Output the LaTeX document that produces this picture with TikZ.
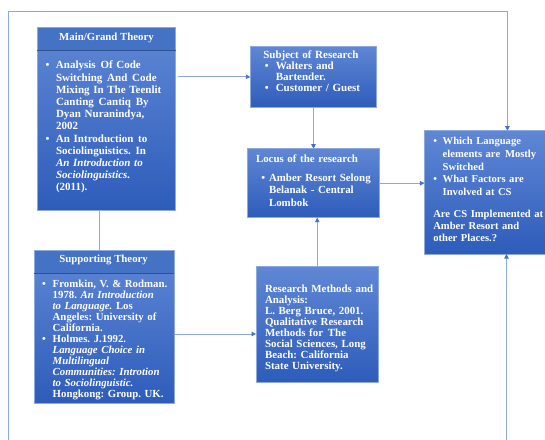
\documentclass[tikz,border=0pt]{standalone}
\usepackage{fontspec}
\setmainfont{Liberation Serif}
\usetikzlibrary{arrows.meta,calc}
\definecolor{hdrc}{HTML}{4472C4}
\definecolor{hdrdark}{HTML}{2F528F}
\definecolor{topc}{HTML}{5F87D5}
\definecolor{botc}{HTML}{2D5CBA}
\definecolor{edgec}{HTML}{8EA9DB}
\definecolor{linec}{HTML}{8EA9DB}
\definecolor{tipc}{HTML}{4472C4}
\newlength\bw
\newcommand\bl{\makebox[\bw][l]{\textbullet}}
\newcommand\ind{\hspace*{\bw}}
\newcommand\ws{\hspace{4.8pt}}
\frenchspacing
\begin{document}
\begin{tikzpicture}[x=1pt,y=-1pt,
 box/.style={draw=edgec, line width=0.7pt, top color=topc, bottom color=botc, anchor=north west, inner sep=0pt, outer sep=0pt},
 hdr/.style={draw=edgec, line width=0.7pt, fill=hdrc, anchor=north west, inner sep=0pt, outer sep=0pt},
 hdrtxt/.style={text=white, inner sep=0pt, font=\frenchspacing\bfseries\fontsize{10.8}{12}\selectfont},
 txt/.style={anchor=base west, inner sep=0pt, outer sep=0pt, text width=150pt, align=left, text=white, font=\frenchspacing\bfseries\fontsize{11}{12.2}\selectfont},
 conn/.style={draw=linec, line width=0.9pt},
 arr/.style={conn, -{Triangle[length=4.5pt,width=4.5pt,color=tipc]}}]
\useasboundingbox (0,0) rectangle (545,439);
\clip (0,0) rectangle (545,439);

% boxes
\node[box, minimum width=138.4pt, minimum height=182.3pt] (main) at (37.3,27.7) {};
\node[hdr, minimum width=138.4pt, minimum height=23pt] (mainH) at (37.3,27.7) {};
\draw[hdrdark, line width=0.8pt] (mainH.south west) -- (mainH.south east);
\node[box, minimum width=140pt, minimum height=152.6pt] (supp) at (34,250.7) {};
\node[hdr, minimum width=140pt, minimum height=22.6pt] (suppH) at (34,250.7) {};
\draw[hdrdark, line width=0.8pt] (suppH.south west) -- (suppH.south east);
\node[box, minimum width=126.4pt, minimum height=61.7pt] (subj) at (250.3,46) {};
\node[box, minimum width=132pt, minimum height=69pt] (locus) at (247.3,148.7) {};
\node[box, minimum width=122.5pt, minimum height=115.6pt] (meth) at (256,266.7) {};
\node[box, minimum width=130pt, minimum height=123.3pt] (right) at (424.4,130.7) {};

% header texts
\node[hdrtxt] (mainHT) at (106.5,37.8) {Main/Grand Theory};
\node[hdrtxt] (suppHT) at (103.6,260.2) {Supporting Theory};

% body texts
\node[txt] (mainT) at (45.6,68.8) {\setlength\bw{10.4pt}%
\bl Analysis\ws Of Code\\
\ind Switching\ws And\ws Code\\
\ind Mixing In The Teenlit\\
\ind Canting\ws Cantiq\ws By\\
\ind Dyan Nuranindya,\\
\ind 2002\\
\bl An Introduction\ws to\\
\ind Sociolinguistics.\ws In\\
\ind \textit{An Introduction to}\\
\ind \textit{Sociolinguistics.}\\
\ind (2011).};

\node[txt, font=\frenchspacing\bfseries\fontsize{10.8}{11.07}\selectfont] (suppT) at (42.1,287) {\setlength\bw{10.6pt}%
\bl Fromkin, V. \& Rodman.\\
\ind 1978. \textit{An Introduction}\\
\ind \textit{to Language.} Los\\
\ind Angeles: University of\\
\ind California.\\
\bl Holmes. J.1992.\\
\ind \textit{Language Choice in}\\
\ind \textit{Multilingual}\\
\ind \textit{Communities: Introtion}\\
\ind \textit{to Sociolinguistic.}\\
\ind Hongkong: Group. UK.};

\node[txt, font=\frenchspacing\bfseries\fontsize{11}{11.3}\selectfont] (subjT) at (263.3,58) {\setlength\bw{11pt}%
Subject of Research\\
\hspace*{1.5pt}\bl Walters and\\
\hspace*{1.5pt}\ind Bartender.\\
\hspace*{1.5pt}\bl Customer / Guest};

\node[txt, font=\frenchspacing\bfseries\fontsize{10.9}{12.5}\selectfont] (locusT) at (256,162.4) {\setlength\bw{7.7pt}%
Locus of the research\\[6.5pt]
\hspace*{5.3pt}\bl Amber Resort Selong\\
\hspace*{5.3pt}\ind Belanak - Central\\
\hspace*{5.3pt}\ind Lombok};

\node[txt, font=\frenchspacing\bfseries\fontsize{10.9}{11.05}\selectfont] (methT) at (265,292) {%
Research Methods and\\
Analysis:\\
L. Berg Bruce, 2001.\\
Qualitative Research\\
Methods for\ws The\\
Social Sciences, Long\\
Beach: California\\
State University.};

\node[txt, font=\frenchspacing\bfseries\fontsize{10.6}{12.7}\selectfont] (rightT) at (433.3,144.7) {\setlength\bw{9.4pt}%
\bl Which Language\\
\ind elements are\ws Mostly\\
\ind Switched\\
\bl What Factors are\\
\ind Involved at CS\\[9.5pt]
Are CS Implemented at\\[-0.9pt]
Amber Resort and\\[-0.9pt]
other Places.?};

% connectors
\coordinate (ms) at (99.5,0);
\coordinate (sr) at (0,334);
\coordinate (fbl) at (8.7,442);
\coordinate (ftl) at (8.7,11.7);
\coordinate (ftr) at (507.4,11.7);
\coordinate (fbr) at (506.5,442);

\draw[conn] (main.south -| ms) -- (supp.north -| ms);
\draw[arr, shorten <=2.5pt] (main.east |- subj.west) -- (subj.west);
\draw[arr] (subj.south) -- (subj.south |- locus.north);
\draw[arr] (locus.east) -- (locus.east -| right.west);
\draw[arr] (meth.north) -- (meth.north |- locus.south);
\draw[arr] (supp.east |- sr) -- (meth.west |- sr);
\draw[arr] (fbl) -- (ftl) -- (ftr) -- (ftr |- right.north);
\draw[arr] (fbr) -- (fbr |- right.south);
\end{tikzpicture}
\end{document}
